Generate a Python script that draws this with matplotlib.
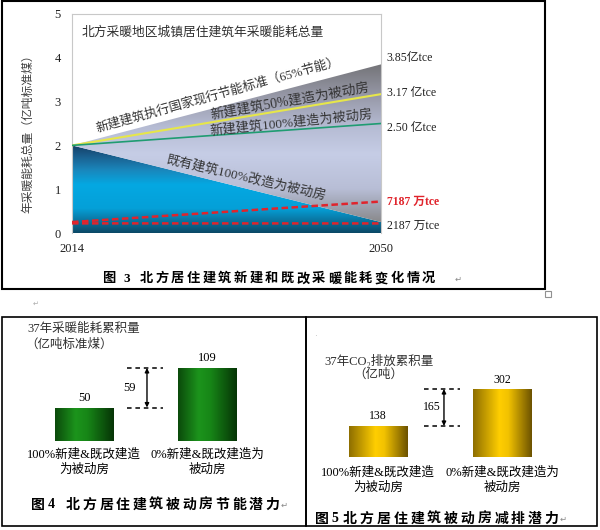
import numpy as np
import matplotlib.pyplot as plt
from matplotlib.colors import LinearSegmentedColormap
from matplotlib.patches import Polygon, Rectangle

plt.rcParams['font.family'] = ['Liberation Serif', 'Noto Sans CJK SC', 'DejaVu Sans']

# ---- data: figure 3 (annual heating energy, 亿吨标准煤) ----
years = [2014, 2050]
std65 = [2.0, 3.85]          # new buildings at current 65% standard
passive50 = [2.0, 3.17]      # 50% of new buildings passive
passive100 = [2.0, 2.50]     # 100% of new buildings passive
retrofit100 = [2.0, 0.25]    # existing buildings 100% retrofitted
red_upper = [0.25, 0.7187]
red_lower = [0.22, 0.2187]
end_labels = ['3.85亿tce', '3.17 亿tce', '2.50 亿tce', '7187 万tce', '2187 万tce']
end_values = [3.85, 3.17, 2.50, 0.7187, 0.2187]

# ---- data: figures 4 and 5 ----
bar_cats = ['100%新建&既改建造\n为被动房', '0%新建&既改建造为\n被动房']
energy_vals = [50, 109]
energy_diff = 59
co2_vals = [138, 302]
co2_diff = 165

W, H = 600, 530
fig = plt.figure(figsize=(6, 5.3), dpi=100)


def px_axes(l, t, r, b):
    return fig.add_axes([l / W, 1 - b / H, (r - l) / W, (b - t) / H])


def ftext(x, y, s, **kw):
    return fig.text(x / W, 1 - y / H, s, **kw)


def box(l, t, r, b, lw=1.2):
    fig.add_artist(Rectangle((l / W, 1 - b / H), (r - l) / W, (b - t) / H,
                             transform=fig.transFigure, fill=False,
                             edgecolor='black', lw=lw))


def vgrad(ax, pts, stops, z=1):
    poly = Polygon(pts, closed=True, facecolor='none', edgecolor='none')
    ax.add_patch(poly)
    xs = [p[0] for p in pts]
    ys = [p[1] for p in pts]
    cmap = LinearSegmentedColormap.from_list('g', stops)
    ramp = np.linspace(0, 1, 256).reshape(-1, 1)
    im = ax.imshow(ramp, cmap=cmap, origin='lower', aspect='auto', zorder=z,
                   extent=[min(xs), max(xs), min(ys), max(ys)])
    im.set_clip_path(poly)


def hgrad_bars(ax, bars, stops):
    cmap = LinearSegmentedColormap.from_list('b', stops)
    ramp = np.linspace(0, 1, 256).reshape(1, -1)
    for r in bars:
        x0, y0 = r.get_x(), r.get_y()
        im = ax.imshow(ramp, cmap=cmap, aspect='auto', zorder=2,
                       extent=[x0, x0 + r.get_width(), y0, y0 + r.get_height()])
        im.set_clip_path(r)


# ================= figure 3 =================
box(1.5, 1, 545, 289, lw=1.5)
ax = px_axes(72, 14, 381, 233)

blue_pts = [(years[0], 0), (years[0], retrofit100[0]),
            (years[1], retrofit100[1]), (years[1], 0)]
vgrad(ax, blue_pts, [(0, '#0a4866'), (0.1, '#0b6890'), (0.28, '#05a0d8'),
                     (0.55, '#04a8e2'), (0.72, '#1a86bb'), (0.88, '#1a5d8c'),
                     (1, '#143f66')])

gray_pts = [(years[0], std65[0]), (years[1], std65[1]), (years[1], retrofit100[1])]
vgrad(ax, gray_pts, [(0, '#8a8a8c'), (0.1, '#9ea2b0'), (0.21, '#b8bed6'),
                     (0.43, '#c6cde6'), (0.6, '#b6bcd4'), (0.78, '#9a9cac'),
                     (1, '#747478')])

ax.plot(years, passive50, color='#e6e64a', lw=1.5, zorder=3)
ax.plot(years, passive100, color='#1f9c72', lw=1.2, zorder=3)
ax.plot(years, red_upper, color='#e0242c', lw=1.8, ls=(0, (2.6, 1.4)), zorder=3)
ax.plot(years, red_lower, color='#e0242c', lw=1.8, ls=(0, (2.6, 1.4)), zorder=3)

ax.set_xlim(2014, 2050)
ax.set_ylim(0, 5)
ax.set_yticks(range(6))
ax.set_xticks(years)
ax.tick_params(length=0, labelsize=9, colors='#202020')
ax.tick_params(axis='y', pad=8)
ax.tick_params(axis='x', pad=7)
for s in ax.spines.values():
    s.set_color('#c8c8c8')
    s.set_linewidth(0.8)
ax.spines['bottom'].set_visible(False)

ax.text(0.03, 0.915, '北方采暖地区城镇居住建筑年采暖能耗总量', transform=ax.transAxes,
        fontsize=9.2, color='#303030', va='center', ha='left')

ax.text(2031.0, 3.15, '新建建筑执行国家现行节能标准（65%节能）', rotation=15.5,
        rotation_mode='anchor', ha='center', va='center', fontsize=9.2,
        color='#333333', zorder=4)
ax.text(2039.4, 3.01, '新建建筑50%建造为被动房', rotation=10, rotation_mode='anchor',
        ha='center', va='center', fontsize=9.8, color='#333333', zorder=4)
ax.text(2039.6, 2.51, '新建建筑100%建造为被动房', rotation=6, rotation_mode='anchor',
        ha='center', va='center', fontsize=9.5, color='#333333', zorder=4)
ax.text(2034.3, 1.26, '既有建筑100%改造为被动房', rotation=-13, rotation_mode='anchor',
        ha='center', va='center', fontsize=9.5, color='#333333', zorder=4)

offsets = [6.4, 1, -4.5, 0, -2.6]
for lab, val, dy in zip(end_labels, end_values, offsets):
    red = lab.startswith('7187')
    ax.annotate(lab, xy=(years[1], val), xytext=(4, dy * 0.72),
                textcoords='offset points', va='center', ha='left',
                fontsize=8.5, annotation_clip=False,
                color='#e0242c' if red else '#202020',
                fontweight='bold' if red else 'normal')

ftext(28, 131, '年采暖能耗总量（亿吨标准煤）', rotation=90, ha='center',
      va='center', fontsize=8.5, color='#404040')

cap_kw = dict(ha='center', va='center', fontsize=9.5, fontweight='bold')
ftext(109, 279, '图', **cap_kw)
ftext(127, 279, '3', **cap_kw)
for i, ch in enumerate('北方居住建筑新建和既改采暖能耗变化情况'):
    ftext(146 + i * 15.7, 279, ch, **cap_kw)
ftext(458, 280, '↵', ha='center', va='center', fontsize=6, color='#888888')

fig.add_artist(Rectangle((545 / W, 1 - 297 / H), 6 / W, 6 / H,
                         transform=fig.transFigure, fill=False,
                         edgecolor='#909090', lw=0.8))

# ================= lower frames =================
box(1.5, 317, 306, 526)
box(306, 317, 597, 526)
ftext(36, 304, '↵', ha='center', va='center', fontsize=5, color='#aaaaaa')

green_stops = [(0, '#0b4a0b'), (0.35, '#1c941c'), (0.55, '#178617'), (1, '#063406')]
gold_stops = [(0, '#8e6e00'), (0.45, '#ffce00'), (0.6, '#f2c200'), (1, '#6c5200')]


def bar_panel(box_px, ylim, vals, diff, stops, cat_pad, val_fs, diff_x, dash_x, arrow_x):
    a = px_axes(*box_px)
    bars = a.bar([0, 1], vals, width=0.47, color='none', edgecolor='none')
    hgrad_bars(a, bars, stops)
    a.bar_label(bars, padding=2.5, fontsize=val_fs)
    lo, hi = vals
    a.hlines([lo, hi], dash_x[0], dash_x[1], colors='black', lw=1.1,
             linestyles=(0, (3, 2.5)))
    a.annotate('', xy=(arrow_x, hi), xytext=(arrow_x, lo),
               arrowprops=dict(arrowstyle='<|-|>', color='black', lw=1,
                               shrinkA=0, shrinkB=0, mutation_scale=6))
    a.text(diff_x, (lo + hi) / 2, str(diff), ha='center', va='center',
           fontsize=val_fs)
    a.set_xlim(-0.6, 1.6)
    a.set_ylim(*ylim)
    a.set_xticks([0, 1], bar_cats, fontsize=9, linespacing=1.25)
    a.set_yticks([])
    a.tick_params(length=0, pad=cat_pad)
    a.patch.set_visible(False)
    for s in a.spines.values():
        s.set_visible(False)
    return a


# ---- figure 4 ----
bar_panel((9.9, 353.9, 281.6, 441), (0, 130), energy_vals, energy_diff,
          green_stops, 5.5, 9, 0.37, (0.348, 0.64), 0.51)
ftext(27, 329, '37年采暖能耗累积量', ha='left', va='center', fontsize=9,
      color='#303030')
ftext(25, 345, '（亿吨标准煤）', ha='left', va='center', fontsize=9,
      color='#303030')
cap_kw = dict(ha='center', va='center', fontsize=10, fontweight='bold')
ftext(37.5, 505, '图', **cap_kw)
ftext(51, 505, '4', **cap_kw)
for i, ch in enumerate('北方居住建筑被动房节能潜力'):
    ftext(73 + i * 16.6, 505, ch, **cap_kw)
ftext(284, 506, '↵', ha='center', va='center', fontsize=6, color='#888888')

# ---- figure 5 ----
bar_panel((303.6, 376, 576.4, 457), (0, 360), co2_vals, co2_diff,
          gold_stops, 7, 8.5, 0.437, (0.371, 0.661), 0.532)
ftext(324, 361, '37年CO₂排放累积量', ha='left', va='center', fontsize=9,
      color='#303030')
ftext(378, 375, '（亿吨）', ha='center', va='center', fontsize=9,
      color='#303030')
ftext(315, 336, '·', ha='center', va='center', fontsize=6, color='#bbbbbb')
ftext(322, 519, '图', **cap_kw)
ftext(335, 519, '5', **cap_kw)
for i, ch in enumerate('北方居住建筑被动房减排潜力'):
    ftext(350 + i * 16.8, 519, ch, **cap_kw)
ftext(563, 520, '↵', ha='center', va='center', fontsize=6, color='#888888')

fig.savefig('out.png', dpi=100)
